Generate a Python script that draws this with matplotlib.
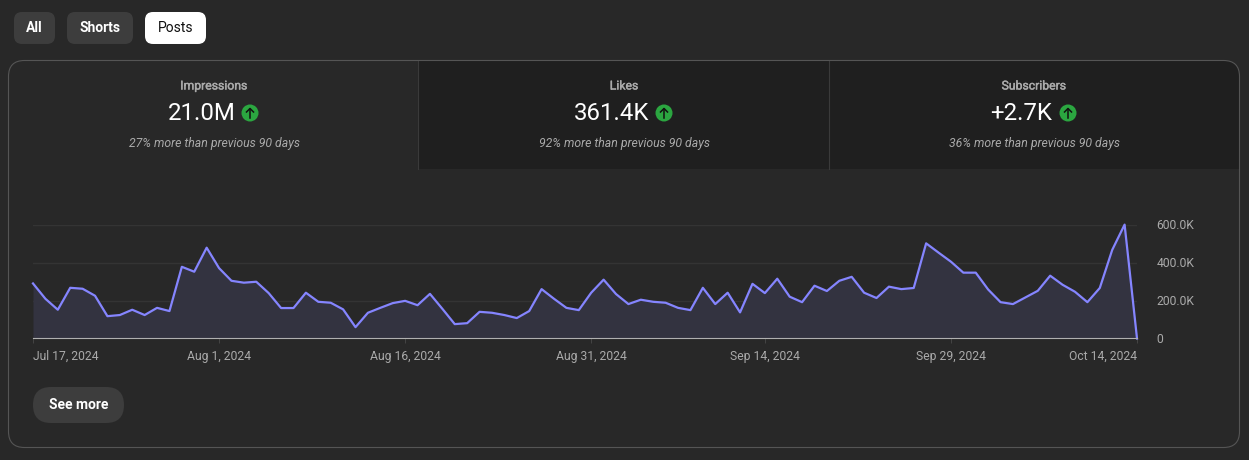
import matplotlib
matplotlib.use("Agg")
import matplotlib.pyplot as plt
import pandas as pd
from matplotlib.patches import Circle, FancyBboxPatch, Rectangle
from matplotlib.patheffects import withStroke
from matplotlib.transforms import ScaledTranslation

plt.rcParams['font.family'] = ['Roboto', 'DejaVu Sans']

values = [291, 210, 152, 268, 263, 226, 118, 124, 152, 124,
          162, 145, 379, 353, 480, 372, 305, 295, 300, 240,
          161, 161, 242, 194, 189, 154, 60, 136, 162, 187,
          199, 176, 236, 157, 76, 81, 141, 136, 124, 108,
          145, 261, 210, 162, 150, 242, 311, 235, 182, 205,
          194, 189, 162, 150, 268, 182, 242, 138, 289, 240,
          316, 221, 192, 279, 251, 305, 326, 242, 214, 274,
          261, 267, 503, 454, 406, 348, 348, 259, 192, 182,
          217, 252, 332, 284, 247, 192, 267, 468, 602, 0]
tick_dates = ['2024-07-17', '2024-08-01', '2024-08-16', '2024-08-31',
              '2024-09-14', '2024-09-29', '2024-10-14']
tick_labels = ['Jul 17, 2024', 'Aug 1, 2024', 'Aug 16, 2024', 'Aug 31, 2024',
               'Sep 14, 2024', 'Sep 29, 2024', 'Oct 14, 2024']
y_ticks = [0, 200, 400, 600]
y_labels = ['0', '200.0K', '400.0K', '600.0K']

metric_names = ['Impressions', 'Likes', 'Subscribers']
metric_values = ['21.0M', '361.4K', '+2.7K']
metric_notes = ['27% more than previous 90 days', '92% more than previous 90 days',
                '36% more than previous 90 days']

BG = '#282828'
DARK = '#1f1f1f'
GREY = '#aaaaaa'
BUTTON = '#3d3d3d'
W, H = 1249, 460

# the small extra keeps 4.6 in * 100 dpi from rounding down to 459 px
fig = plt.figure(figsize=((W + 0.01) / 100, (H + 0.01) / 100), dpi=100, facecolor=BG)

# page furniture, drawn in pixel coordinates
ui = fig.add_axes([0, 0, 1, 1])
ui.set_xlim(0, W)
ui.set_ylim(H, 0)
ui.axis('off')


def button(x0, y0, x1, y1, r, color, label, text_color, weight='bold'):
    ui.add_patch(FancyBboxPatch((x0 + r, y0 + r), x1 - x0 - 2 * r, y1 - y0 - 2 * r,
                                boxstyle=f'round,pad={r},rounding_size={r}',
                                fc=color, ec='none'))
    ui.text((x0 + x1) / 2, (y0 + y1) / 2 - 0.5, label, color=text_color, fontsize=10,
            fontweight=weight, ha='center', va='center')


button(14, 12, 55, 44, 8, BUTTON, 'All', 'white')
button(67, 12, 133, 44, 8, BUTTON, 'Shorts', 'white')
button(145, 12, 206, 44, 8, 'white', 'Posts', '#0f0f0f', 'normal')
button(33, 387, 124, 423, 18, BUTTON, 'See more', 'white')

card = FancyBboxPatch((24.5, 76.5), 1199, 355, boxstyle='round,pad=16,rounding_size=16',
                      fc='none', ec='#555555', lw=0.8, zorder=5)
ui.add_patch(card)
tabs = Rectangle((418, 61), 822, 108, fc=DARK, ec='none', zorder=1)
ui.add_patch(tabs)
tabs.set_clip_path(card)
for x in (418, 829):
    ui.plot([x, x], [61, 169], color='#3a3a3a', lw=0.8, zorder=2)

centers = [214, 624, 1034]
value_x = [201.5, 612, 1021]
icon_x = [250, 664, 1068]
for i in range(3):
    ui.text(centers[i], 86, metric_names[i], color=GREY, fontsize=8.8, ha='center', va='center',
            zorder=3, path_effects=[withStroke(linewidth=0.3, foreground=GREY)])
    ui.text(value_x[i], 113.5, metric_values[i], color='white', fontsize=17.3,
            ha='center', va='center', zorder=3)
    ui.text(centers[i], 143, metric_notes[i], color=GREY, fontsize=8.85, style='italic',
            ha='center', va='center', zorder=3)
    ui.add_patch(Circle((icon_x[i], 113), 8.5, fc='#2ba640', ec='none', zorder=3))
    ui.plot([icon_x[i], icon_x[i]], [118, 109], color='#111111', lw=1.1, zorder=4)
    ui.plot([icon_x[i] - 3.5, icon_x[i], icon_x[i] + 3.5], [112, 108.5, 112],
            color='#111111', lw=1.1, zorder=4)

# chart
ax = fig.add_axes([33 / W, 1 - 338.5 / H, 1104 / W, 113.5 / H])
ax.patch.set_alpha(0)
dates = pd.date_range('2024-07-17', periods=len(values))
ax.fill_between(dates, values, 0, color='#333340', lw=0, zorder=2)
ax.plot(dates, values, color='#8585ff', lw=1.6, clip_on=False, zorder=3)
ax.set_xlim(dates[0], dates[-1])
ax.set_ylim(0, 600)

ax.set_yticks(y_ticks, y_labels)
ax.yaxis.tick_right()
ax.grid(axis='y', color='#343434', lw=1.0, zorder=1)
ax.tick_params(axis='y', length=0, pad=14, labelsize=8.7, labelcolor=GREY)
up_1px = ScaledTranslation(0, 1 / 100, fig.dpi_scale_trans)
for label in ax.get_yticklabels():
    label.set_transform(label.get_transform() + up_1px)

ax.set_xticks(pd.to_datetime(tick_dates), tick_labels)
ax.tick_params(axis='x', length=3.5, width=0.7, color='#444444', pad=4.7,
               labelsize=8.7, labelcolor=GREY)
labels = ax.get_xticklabels()
labels[0].set_ha('left')
labels[-1].set_ha('right')

for side in ('top', 'left', 'right'):
    ax.spines[side].set_visible(False)
ax.spines['bottom'].set_color('#b0b0b0')
ax.spines['bottom'].set_linewidth(0.8)
ax.spines['bottom'].set_zorder(4)

fig.savefig('out.png', dpi=100, facecolor=BG)
